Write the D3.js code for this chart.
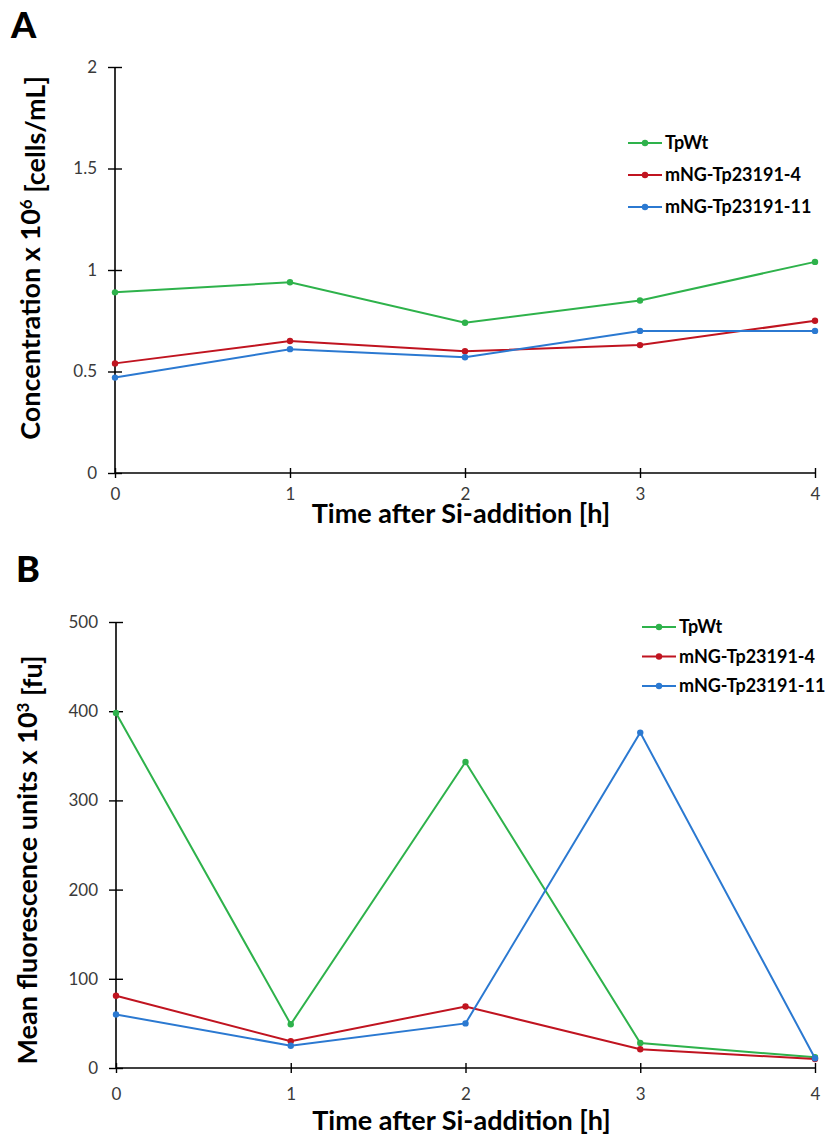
<!DOCTYPE html>
<html>
<head>
<meta charset="utf-8">
<script src="https://cdn.jsdelivr.net/npm/d3@7"></script>
<style>
    body { margin: 0; background: #fff; }
    svg { display: block; font-family: Lato, 'Open Sans', sans-serif; }
</style>
</head>
<body>
<div id="chart"></div>
<script>
'use strict';

// data
const hours = [0, 1, 2, 3, 4];
const series_names = ['TpWt', 'mNG-Tp23191-4', 'mNG-Tp23191-11'];
const series_colors = ['#2eb24b', '#c01420', '#2b79d1'];

// panel A: concentration x 10^6 cells/mL
const conc_tpwt = [0.89, 0.94, 0.74, 0.85, 1.04];
const conc_mng4 = [0.54, 0.65, 0.60, 0.63, 0.75];
const conc_mng11 = [0.47, 0.61, 0.57, 0.70, 0.70];
const conc_ticks = [0, 0.5, 1, 1.5, 2];

// panel B: mean fluorescence units x 10^3
const flu_tpwt = [398, 49, 343, 28, 12];
const flu_mng4 = [81, 30, 69, 21, 10];
const flu_mng11 = [60, 25, 50, 376, 11];
const flu_ticks = [0, 100, 200, 300, 400, 500];

const width = 826, height = 1140;

const svg = d3.select('#chart').append('svg')
    .attr('width', width)
    .attr('height', height);

function draw_panel(opts){
    const { letter, letter_pos, x0, x1, y0, y1, ydomain, yticks, series,
            ytitle, ysup, ytitle_after, ytitle_x, ytitle_cy, xlabel_y, xtitle_y, legend } = opts;

    const x = d3.scaleLinear().domain([0, 4]).range([x0, x1]);
    const y = d3.scaleLinear().domain(ydomain).range([y1, y0]);

    // panel letter
    svg.append('text')
        .attr('x', letter_pos[0])
        .attr('y', letter_pos[1])
        .attr('font-size', '36px')
        .attr('font-weight', 900)
        .attr('fill', '#000')
        .text(letter);

    // y axis
    const yaxis = svg.append('g')
        .attr('transform', `translate(${x0},0)`)
        .call(d3.axisLeft(y).tickValues(yticks).tickSize(6).tickPadding(12)
            .tickFormat(d => String(d)));
    yaxis.selectAll('.tick line').attr('x2', 7).attr('x1', -7);

    // x axis
    const xaxis = svg.append('g')
        .attr('transform', `translate(0,${y1})`)
        .call(d3.axisBottom(x).tickValues(hours).tickSize(6).tickPadding(0)
            .tickFormat(d => String(d)));
    xaxis.selectAll('.tick line').attr('y1', -5).attr('y2', 5);
    xaxis.selectAll('.tick text').attr('y', xlabel_y - y1).attr('dy', '0.35em');

    [yaxis, xaxis].forEach(g => {
        g.select('.domain').attr('stroke', '#000').attr('stroke-width', 1.6);
        g.selectAll('.tick line').attr('stroke', '#000').attr('stroke-width', 1.4);
        g.selectAll('.tick text')
            .attr('font-family', "Lato, 'Open Sans', sans-serif")
            .attr('font-size', '17px')
            .attr('fill', '#3a3a3a');
    });
    // plain domains, no outer ticks
    xaxis.select('.domain').attr('d', `M${x0},0H${x1}`);
    yaxis.select('.domain').attr('d', `M0,${y1}V${y0}`);

    // lines
    const line = d3.line()
        .x((d, i) => x(hours[i]))
        .y(d => y(d));

    const plot_g = svg.append('g');
    series.forEach((vals, k) => {
        plot_g.append('path')
            .datum(vals)
            .attr('fill', 'none')
            .attr('stroke', series_colors[k])
            .attr('stroke-width', 2)
            .attr('d', line);
        plot_g.selectAll(null)
            .data(vals)
            .enter()
            .append('circle')
            .attr('cx', (d, i) => x(hours[i]))
            .attr('cy', d => y(d))
            .attr('r', 3.2)
            .attr('fill', series_colors[k]);
    });

    // y title
    const yt = svg.append('text')
        .attr('transform', `translate(${ytitle_x},${ytitle_cy}) rotate(-90)`)
        .attr('text-anchor', 'middle')
        .attr('font-size', '27px')
        .attr('font-weight', 700)
        .attr('fill', '#000');
    yt.append('tspan').text(ytitle);
    yt.append('tspan').attr('dy', '-0.45em').attr('font-size', '17px').text(ysup);
    yt.append('tspan').attr('dy', '0.45em').text(ytitle_after);

    // x title
    svg.append('text')
        .attr('x', (x0 + x1) / 2 - 4)
        .attr('y', xtitle_y)
        .attr('text-anchor', 'middle')
        .attr('font-size', '27px')
        .attr('font-weight', 700)
        .attr('fill', '#000')
        .text('Time after Si-addition [h]');

    // legend
    const leg = svg.append('g');
    series_names.forEach((name, k) => {
        const ly = legend.y + k * legend.step;
        leg.append('line')
            .attr('x1', legend.x).attr('x2', legend.x + 34)
            .attr('y1', ly).attr('y2', ly)
            .attr('stroke', series_colors[k])
            .attr('stroke-width', 2);
        leg.append('circle')
            .attr('cx', legend.x + 17).attr('cy', ly)
            .attr('r', 3.2)
            .attr('fill', series_colors[k]);
        leg.append('text')
            .attr('x', legend.x + 37)
            .attr('y', ly)
            .attr('dy', '0.35em')
            .attr('font-size', '18px')
            .attr('font-weight', 700)
            .attr('fill', '#000')
            .text(name);
    });
}

draw_panel({
    letter: 'A', letter_pos: [11, 38],
    x0: 115, x1: 815, y0: 67, y1: 473,
    ydomain: [0, 2], yticks: conc_ticks,
    series: [conc_tpwt, conc_mng4, conc_mng11],
    ytitle: 'Concentration x 10', ysup: '6', ytitle_after: ' [cells/mL]',
    ytitle_x: 40, ytitle_cy: 258,
    xlabel_y: 494, xtitle_y: 523,
    legend: { x: 628, y: 143, step: 32 }
});

draw_panel({
    letter: 'B', letter_pos: [16, 582],
    x0: 116, x1: 815, y0: 622, y1: 1068,
    ydomain: [0, 500], yticks: flu_ticks,
    series: [flu_tpwt, flu_mng4, flu_mng11],
    ytitle: 'Mean fluorescence units x 10', ysup: '3', ytitle_after: '  [fu]',
    ytitle_x: 37, ytitle_cy: 860,
    xlabel_y: 1094, xtitle_y: 1130,
    legend: { x: 642, y: 627, step: 29.5 }
});
</script>
</body>
</html>
